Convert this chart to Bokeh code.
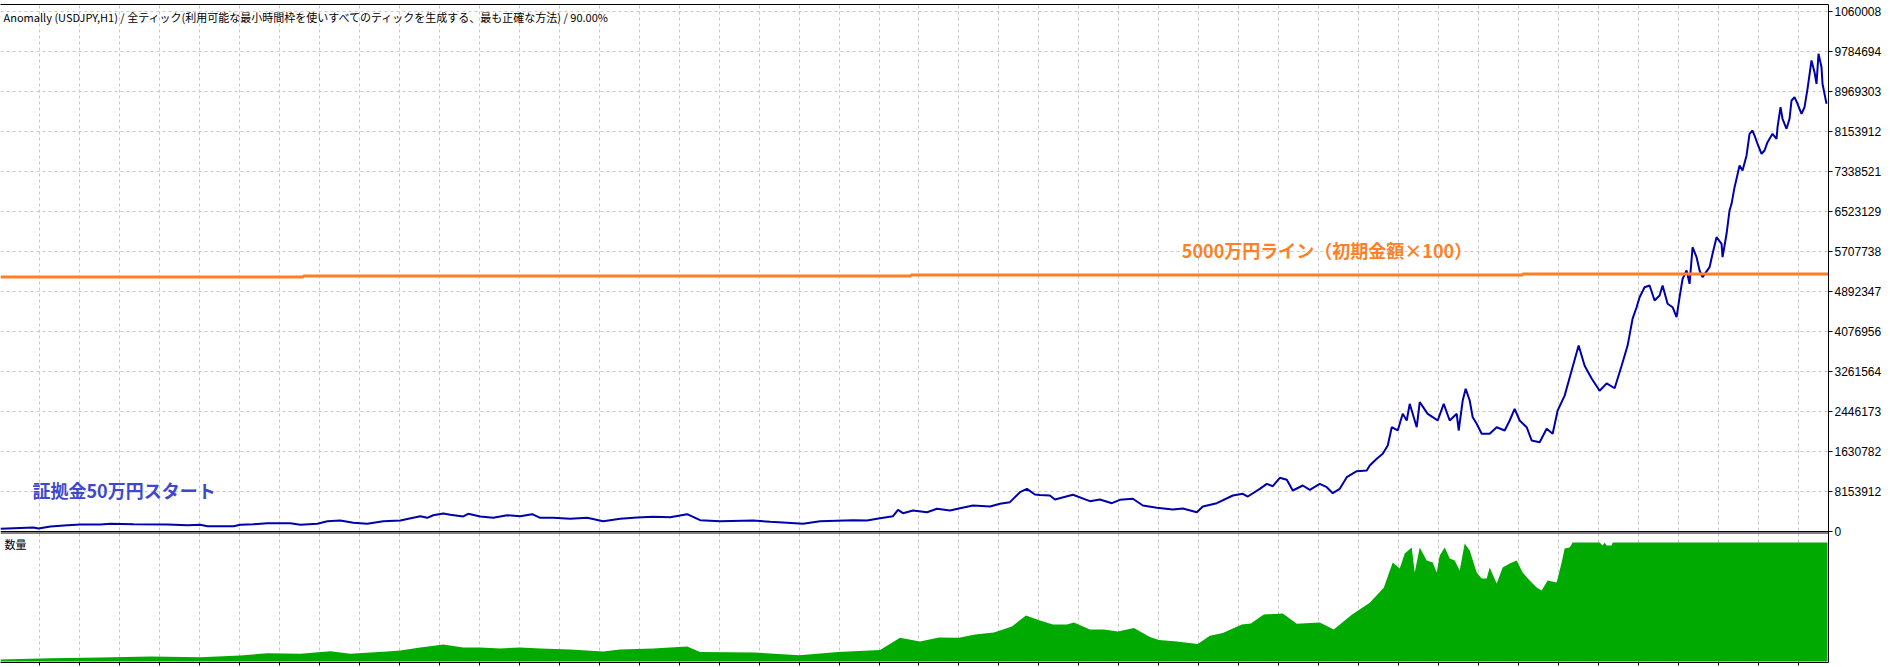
from bokeh.plotting import figure
from bokeh.models import Range1d, FixedTicker, Label, ColumnDataSource, LinearAxis, Span
from bokeh.embed import file_html
from bokeh.resources import INLINE

# ---------------- data ----------------
TITLE = "Anomally (USDJPY,H1) / 全ティック(利用可能な最小時間枠を使いすべてのティックを生成する、最も正確な方法) / 90.00%"
VOL_LABEL = "数量"
NOTE_START = "証拠金50万円スタート"
NOTE_LINE = "5000万円ライン（初期金額×100）"

# equity curve: trade position and balance (million yen)
EQ_X = [0, 33, 38, 50, 67, 80, 100, 110, 133, 167, 187, 200, 207, 233, 240, 253, 267, 290, 300, 317,
        327, 340, 353, 367, 383, 400, 420, 427, 433, 443, 450, 463, 468, 480, 493, 507, 520,
        532, 540, 553, 570, 587, 603, 620, 637, 653, 670, 687, 700, 720, 753, 770, 787, 803, 820,
        853, 867, 880, 893, 898, 903, 913, 927, 937, 950, 960, 973, 990, 1000, 1010, 1020, 1027,
        1035, 1040, 1050, 1055, 1073, 1090, 1100, 1112, 1120, 1133, 1143, 1157, 1173, 1183, 1197,
        1203, 1217, 1233, 1243, 1248, 1260, 1267, 1273, 1280, 1287, 1293, 1303, 1310, 1320, 1327,
        1333, 1340, 1347, 1357, 1367, 1370, 1377, 1383, 1388, 1392, 1398, 1403, 1407, 1410, 1417,
        1420, 1428, 1433, 1438, 1444, 1450, 1457, 1459, 1463, 1466, 1470, 1473, 1477, 1482, 1490,
        1497, 1505, 1510, 1515, 1520, 1527, 1532, 1540, 1547, 1553, 1558, 1565, 1572, 1579, 1585,
        1592, 1600, 1607, 1615, 1622, 1628, 1633, 1637, 1640, 1645, 1650, 1655, 1660, 1663, 1668,
        1673, 1677, 1680, 1683, 1687, 1690, 1693, 1697, 1700, 1703, 1710, 1713, 1717, 1722, 1723,
        1727, 1730, 1732, 1735, 1737, 1740, 1743, 1747, 1750, 1753, 1755, 1758, 1762, 1765, 1768,
        1773, 1777, 1778, 1781, 1783, 1787, 1790, 1792, 1795, 1798, 1802, 1805, 1808, 1812, 1815,
        1817, 1819, 1822, 1823, 1825, 1827]
EQ_M = [0.55, 0.82, 0.61, 1.02, 1.28, 1.43, 1.43, 1.57, 1.49, 1.43, 1.28, 1.37, 1.08, 1.08, 1.37, 1.49, 1.69, 1.69, 1.37, 1.57,
        2.10, 2.24, 1.77, 1.57, 2.10, 2.24, 3.12, 2.79, 3.32, 3.67, 3.40, 3.06, 3.61, 3.06, 2.79, 3.32, 3.12,
        3.53, 2.79, 2.79, 2.59, 2.79, 2.10, 2.59, 2.85, 3.00, 2.92, 3.53, 2.30, 2.10, 2.24, 1.98, 1.77, 1.57, 2.10,
        2.30, 2.24, 2.71, 3.12, 4.42, 3.73, 4.28, 3.93, 4.63, 4.28, 4.75, 5.30, 5.10, 5.65, 5.98, 8.01, 8.70,
        7.54, 7.44, 7.34, 6.52, 7.48, 6.18, 6.52, 5.77, 6.46, 6.67, 5.30, 4.83, 4.48, 4.69, 3.93,
        5.10, 5.77, 7.34, 7.69, 7.13, 8.70, 9.72, 9.23, 10.95, 10.54, 8.36, 9.38, 8.50, 9.72, 9.03,
        7.81, 8.70, 11.07, 12.29, 12.43, 13.45, 14.82, 15.84, 17.53, 21.26, 20.59, 23.99, 22.63, 26.03, 21.26,
        26.36, 23.99, 23.30, 22.63, 26.03, 22.63, 23.99, 20.59, 26.70, 29.09, 26.70, 23.30, 21.95, 19.92, 19.92,
        21.26, 20.59, 22.63, 25.01, 22.63, 21.26, 18.55, 18.20, 20.94, 19.92, 24.67, 27.70, 32.80, 37.90, 33.80,
        31.20, 28.70, 30.20, 29.20, 33.80, 37.90, 43.40, 45.72, 47.76, 49.80, 50.15, 47.09, 48.11, 50.15, 46.42,
        45.72, 43.68, 47.76, 51.51, 53.20, 50.49, 57.95, 55.92, 53.20, 51.84, 53.88, 56.61, 59.99, 58.65, 55.92,
        60.69, 65.44, 66.80, 70.19, 71.90, 74.61, 73.59, 76.65, 81.07, 81.74, 80.72, 79.03, 77.00, 77.67, 79.36,
        81.07, 80.05, 82.42, 86.49, 84.13, 82.09, 84.13, 87.86, 88.53, 87.19, 85.15, 86.49, 90.24, 96.01, 93.63,
        91.26, 97.38, 94.65, 91.26, 89.22, 87.19]

# 50M yen reference line as drawn (million yen), step levels
LINE_X = [0, 303, 911, 1523, 1829]
LINE_M = [51.88, 52.08, 52.29, 52.49, 52.49]

# trade volume (lots)
VOL_X = [0, 50, 100, 150, 200, 240, 267, 300, 330, 350, 387, 400, 420, 443, 463, 480, 500, 520, 540, 570,
         603, 620, 653, 687, 700, 755, 799, 838, 880, 900, 920, 939, 959, 975, 994, 1012, 1026, 1040,
         1053, 1067, 1074, 1090, 1104, 1118, 1134, 1150, 1159, 1177, 1198, 1210, 1223, 1242, 1251, 1264,
         1283, 1297, 1320, 1334, 1352, 1370, 1384, 1393, 1400, 1405, 1412, 1415, 1420, 1427, 1433, 1437,
         1440, 1445, 1450, 1455, 1460, 1465, 1470, 1477, 1482, 1487, 1490, 1497, 1503, 1510, 1517, 1523,
         1530, 1537, 1542, 1548, 1557, 1562, 1565, 1570, 1573, 1600, 1603, 1605, 1607, 1612, 1613, 1828]
VOL = [0.84, 1.39, 1.68, 2.10, 1.81, 2.52, 3.49, 3.24, 4.33, 3.24, 4.20, 4.62, 5.88, 7.14, 5.88, 5.88, 5.46, 5.88, 5.46, 5.04,
       4.20, 5.04, 5.46, 6.30, 3.99, 3.78, 2.65, 3.99, 4.83, 9.95, 8.40, 10.08, 9.95, 11.34, 12.18, 14.70, 19.28, 17.22,
       15.54, 15.54, 16.38, 13.44, 13.44, 12.60, 14.03, 10.29, 9.07, 8.40, 7.39, 10.84, 12.01, 15.54, 15.96, 19.74,
       20.16, 15.88, 16.38, 13.44, 19.61, 24.65, 31.00, 41.58, 39.06, 45.36, 47.88, 37.38, 47.88, 42.42, 41.58, 37.38,
       44.52, 47.88, 43.26, 42.42, 38.22, 49.56, 46.62, 37.38, 34.86, 34.86, 39.48, 32.76, 39.48, 41.16, 42.42, 37.38,
       34.02, 31.08, 29.82, 34.02, 33.18, 41.58, 47.46, 47.88, 50.00, 50.00, 48.74, 50.00, 48.74, 48.74, 50.00, 50.00]
VOL_MAX = 50.0

# right axis ticks (yen) and the labels as displayed
Y_STEP = 8153912
Y_TICK_LABELS = ["0", "8153912", "1630782", "2446173", "3261564", "4076956", "4892347",
                 "5707738", "6523129", "7338521", "8153912", "8969303", "9784694", "1060008"]

# ---------------- layout (pixels) ----------------
FIG_W, FIG_H = 1884, 666
FRAME_TOP, FRAME_BOTTOM = 4, 662        # page rows of the frame edges
RIGHT_W = 55
ZERO_ROW = 531                          # row of equity 0 (upper panel bottom)
PANEL2_TOP_ROW = 532.5                  # row of the lower panel's top border
VOL_ZERO_ROW, VOL_MAX_ROW = 661, 542    # rows of volume 0 and of the volume cap
X_START, X_END = 0, 1829
GRID_X = [39 + 40 * k for k in range(46)]
GRID_COLOR = "#c8c8c8"
GRID_DASH = "3 3"
BLUE = "#0000aa"
ORANGE = "#ff7f27"
GREEN = "#00aa00"
FONT = "Liberation Sans"
JP = "Noto Sans CJK JP"

PX = Y_STEP / 40.0                      # equity per pixel
y_ticks = [k * Y_STEP for k in range(len(Y_TICK_LABELS))]
y_end = (ZERO_ROW - FRAME_TOP) * PX
y_start = -(FRAME_BOTTOM - ZERO_ROW) * PX

VPX = VOL_MAX / (VOL_ZERO_ROW - VOL_MAX_ROW)   # lots per pixel
v_start = -(FRAME_BOTTOM - VOL_ZERO_ROW) * VPX
v_end = (VOL_ZERO_ROW - FRAME_TOP) * VPX

p = figure(width=FIG_W, height=FIG_H, x_range=Range1d(X_START, X_END),
           y_range=Range1d(y_start, y_end), output_backend="svg", toolbar_location=None,
           x_axis_location="below", y_axis_location="right",
           min_border_left=0, min_border_right=RIGHT_W, min_border_top=FRAME_TOP,
           min_border_bottom=FIG_H - FRAME_BOTTOM,
           background_fill_color="white", border_fill_color="white")
p.outline_line_color = None
p.extra_y_ranges = {"vol": Range1d(v_start, v_end)}

# right price axis
yax = p.yaxis[0]
yax.ticker = FixedTicker(ticks=y_ticks)
yax.major_label_overrides = {t: lab for t, lab in zip(y_ticks, Y_TICK_LABELS)}
yax.major_tick_out = 4
yax.major_tick_in = 0
yax.minor_tick_out = 0
yax.minor_tick_in = 0
yax.major_label_standoff = 2
yax.major_label_text_font = FONT
yax.major_label_text_font_size = "12px"
yax.major_label_text_color = "black"
yax.axis_line_color = "black"
yax.major_tick_line_color = "black"

# bottom axis: tick marks only
xax = p.xaxis[0]
xax.ticker = FixedTicker(ticks=GRID_X)
xax.major_tick_out = 3
xax.major_tick_in = 0
xax.minor_tick_out = 0
xax.minor_tick_in = 0
xax.major_label_standoff = 0
xax.major_label_text_font_size = "0px"
xax.major_label_text_color = None
xax.axis_line_color = "black"
xax.major_tick_line_color = "black"

# top border
top_ax = LinearAxis(ticker=FixedTicker(ticks=[]), major_tick_out=0, major_tick_in=0,
                    minor_tick_out=0, minor_tick_in=0, major_label_standoff=0,
                    major_label_text_font_size="0px", major_label_text_color=None,
                    axis_line_color="black")
p.add_layout(top_ax, "above")

# grid
p.ygrid.ticker = FixedTicker(ticks=y_ticks[1:])
p.ygrid.grid_line_color = GRID_COLOR
p.ygrid.grid_line_dash = GRID_DASH
p.xgrid.ticker = FixedTicker(ticks=GRID_X)
p.xgrid.grid_line_color = GRID_COLOR
p.xgrid.grid_line_dash = GRID_DASH

# volume histogram (lower panel)
vol_src = ColumnDataSource(dict(x=VOL_X, y=VOL, z=[0] * len(VOL)))
p.varea(x="x", y1="z", y2="y", source=vol_src, fill_color=GREEN, y_range_name="vol")

# panel separators
p.add_layout(Span(location=0, dimension="width", line_color="black", line_width=1))
p.add_layout(Span(location=(ZERO_ROW - PANEL2_TOP_ROW) * PX, dimension="width",
                  line_color="black", line_width=1))

# equity and the 50M line
eq_src = ColumnDataSource(dict(x=EQ_X, y=[v * 1e6 for v in EQ_M]))
p.line("x", "y", source=eq_src, line_color=BLUE, line_width=2)
p.step(LINE_X, [v * 1e6 for v in LINE_M], mode="after", line_color=ORANGE, line_width=3)

# texts
p.add_layout(Label(x=X_START, y=y_end, x_offset=3, y_offset=-4, text=TITLE,
                   text_font=JP, text_font_size="11px", text_color="black",
                   text_baseline="top", text_align="left"))
p.add_layout(Label(x=32, y=8.56e6, text=NOTE_START, text_font=JP, text_font_size="18px",
                   text_font_style="bold", text_color="#3f48cc",
                   text_baseline="middle", text_align="left"))
p.add_layout(Label(x=1182, y=57.3e6, text=NOTE_LINE, text_font=JP, text_font_size="18px",
                   text_font_style="bold", text_color=ORANGE,
                   text_baseline="middle", text_align="left"))
p.add_layout(Label(x=X_START, y=(ZERO_ROW - PANEL2_TOP_ROW) * PX, x_offset=4, y_offset=-3,
                   text=VOL_LABEL, text_font=JP, text_font_size="11px", text_color="black",
                   text_baseline="top", text_align="left"))

open("out.html", "w").write(file_html(p, INLINE, "Anomally"))
